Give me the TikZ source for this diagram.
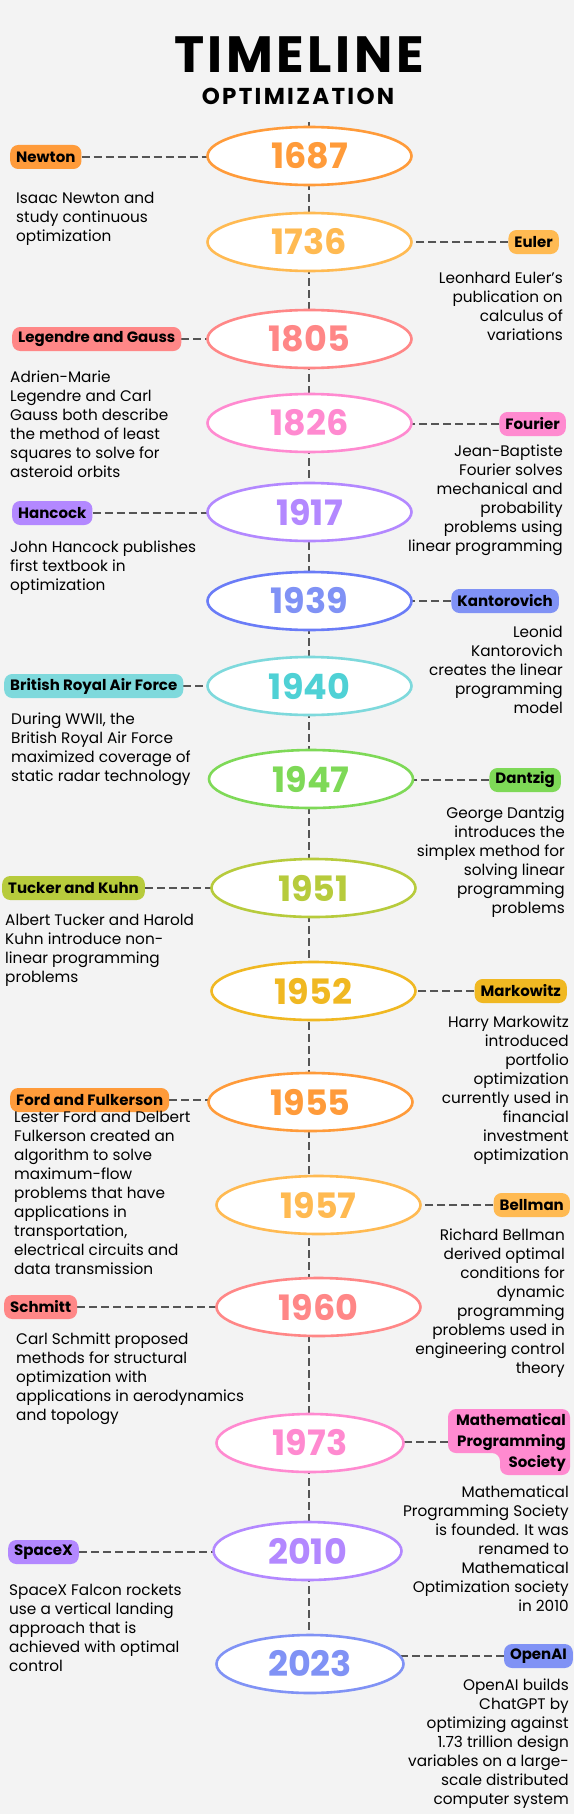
\documentclass[tikz,border=0pt]{standalone}
\usepackage{fontspec}
\setmainfont{Poppins}
\usetikzlibrary{shapes.geometric,positioning,backgrounds}
\definecolor{bgcol}{HTML}{F3F3F3}
\definecolor{linecol}{HTML}{555555}
\definecolor{corange}{HTML}{FF9B3A}
\definecolor{clight}{HTML}{FFBA52}
\definecolor{csalmon}{HTML}{FF8787}
\definecolor{cpink}{HTML}{FF8AD0}
\definecolor{clav}{HTML}{B388FF}
\definecolor{cblue}{HTML}{6A7CF7}
\definecolor{cperi}{HTML}{8092F5}
\definecolor{ccyan}{HTML}{7ED9DC}
\definecolor{cteal}{HTML}{4FD1D5}
\definecolor{cgreen}{HTML}{7ED957}
\definecolor{colive}{HTML}{B7CB3C}
\definecolor{cgold}{HTML}{F0B822}

\begin{document}
\begin{tikzpicture}[x=1pt,y=-1pt,
  yr/.style={ellipse,draw=#1,text=#1,fill=white,line width=2.6pt,minimum width=204pt,
    minimum height=58pt,inner sep=0pt,font=\bfseries\fontsize{35}{35}\selectfont},
  tag/.style={fill=#1,rounded corners=8pt,minimum height=24pt,inner xsep=6pt,inner ysep=2pt,
    text=black,font=\bfseries\fontsize{15}{17}\selectfont},
  dl/.style={anchor=north west,align=left,inner sep=0pt,font=\fontsize{15.3}{19}\selectfont},
  dr/.style={anchor=north east,align=right,inner sep=0pt,font=\fontsize{15.3}{19}\selectfont},
  link/.style={draw=linecol,line width=1.6pt,dash pattern=on 8pt off 4pt}
]
\useasboundingbox (0,0) rectangle (574,1814);

\node[font=\bfseries\fontsize{51}{51}\selectfont\addfontfeatures{LetterSpace=7}] (title) at (299,55) {TIMELINE};
\node[font=\bfseries\fontsize{23}{23}\selectfont\addfontfeatures{LetterSpace=10}] (subtitle) at (298,96) {OPTIMIZATION};

\node[yr=corange] (y1687) at (309.5,156) {1687};
\node[yr=clight]  (y1736) at (309.5,242) {1736};
\node[yr=csalmon] (y1805) at (309.5,339) {1805};
\node[yr=cpink]   (y1826) at (309.5,423) {1826};
\node[yr=clav]    (y1917) at (309.5,512) {1917};
\node[yr=cblue,text=cperi] (y1939) at (309.5,601) {1939};
\node[yr=ccyan,text=cteal] (y1940) at (309.5,686) {1940};
\node[yr=cgreen]  (y1947) at (311,779) {1947};
\node[yr=colive]  (y1951) at (313.5,888) {1951};
\node[yr=cgold]   (y1952) at (313.5,991) {1952};
\node[yr=corange] (y1955) at (310.5,1102) {1955};
\node[yr=clight]  (y1957) at (318.5,1205) {1957};
\node[yr=csalmon] (y1960) at (318.5,1307) {1960};
\node[yr=cpink,minimum width=187pt] (y1973) at (310,1443) {1973};
\node[yr=clav,minimum width=188pt]  (y2010) at (307.5,1551) {2010};
\node[yr=cperi,minimum width=187pt] (y2023) at (310,1664) {2023};

\node[tag=corange,anchor=west] (newton) at (10,157) {Newton};
\node[tag=clight,anchor=east] (euler) at (559,242) {Euler};
\node[tag=csalmon,anchor=west] (legendre) at (12,339) {Legendre and Gauss};
\node[tag=cpink,anchor=east] (fourier) at (566,424) {Fourier};
\node[tag=clav,anchor=west] (hancock) at (12,513) {Hancock};
\node[tag=cperi,anchor=east] (kanto) at (559,601) {Kantorovich};
\node[tag=ccyan,anchor=west] (raf) at (4,686) {British Royal Air Force};
\node[tag=cgreen,anchor=east] (dantzig) at (561,780) {Dantzig};
\node[tag=colive,anchor=west] (tucker) at (2,888) {Tucker and Kuhn};
\node[tag=cgold,anchor=east] (markowitz) at (567,991) {Markowitz};
\node[tag=corange,anchor=west] (ford) at (10,1100) {Ford and Fulkerson};
\node[tag=clight,anchor=east] (bellman) at (570,1205) {Bellman};
\node[tag=csalmon,anchor=west] (schmitt) at (4,1307) {Schmitt};
\node[align=right,anchor=east,inner sep=0pt,font=\bfseries\fontsize{15}{21}\selectfont]
  (mps) at (566,1442) {Mathematical\\Programming\\Society};
\coordinate (mpsw) at (448,1442);
\node[tag=clav,anchor=west] (spacex) at (8,1552) {SpaceX};
\node[tag=cperi,anchor=east] (openai) at (573,1656) {OpenAI};

\node[dl] (dnewton) at (16,192) {Isaac Newton and\\study continuous\\optimization};
\node[dr] (deuler) at (563,272) {Leonhard Euler's\\publication on\\calculus of\\variations};
\node[dl] (dlegendre) at (10,371) {Adrien-Marie\\Legendre and Carl\\Gauss both describe\\the method of least\\squares to solve for\\asteroid orbits};
\node[dr] (dfourier) at (563,445) {Jean-Baptiste\\Fourier solves\\mechanical and\\probability\\problems using\\linear programming};
\node[dl] (dhancock) at (10,541) {John Hancock publishes\\first textbook in\\optimization};
\node[dr] (dkanto) at (563,626) {Leonid\\Kantorovich\\creates the linear\\programming\\model};
\node[dl] (draf) at (11,713) {During WWII, the\\British Royal Air Force\\maximized coverage of\\static radar technology};
\node[dr] (ddantzig) at (565,807) {George Dantzig\\introduces the\\simplex method for\\solving linear\\programming\\problems};
\node[dl] (dtucker) at (5,914) {Albert Tucker and Harold\\Kuhn introduce non-\\linear programming\\problems};
\node[dr] (dmarkowitz) at (569,1016) {Harry Markowitz\\introduced\\portfolio\\optimization\\currently used in\\financial\\investment\\optimization};
\node[dl] (dford) at (14,1111) {Lester Ford and Delbert\\Fulkerson created an\\algorithm to solve\\maximum-flow\\problems that have\\applications in\\transportation,\\electrical circuits and\\data transmission};
\node[dr] (dbellman) at (565,1229) {Richard Bellman\\derived optimal\\conditions for\\dynamic\\programming\\problems used in\\engineering control\\theory};
\node[dl] (dschmitt) at (16,1333) {Carl Schmitt proposed\\methods for structural\\optimization with\\applications in aerodynamics\\and topology};
\node[dr] (dmps) at (569,1486) {Mathematical\\Programming Society\\is founded. It was\\renamed to\\Mathematical\\Optimization society\\in 2010};
\node[dl] (dspacex) at (9,1584) {SpaceX Falcon rockets\\use a vertical landing\\approach that is\\achieved with optimal\\control};
\node[dr] (dopenai) at (569,1679) {OpenAI builds\\ChatGPT by\\optimizing against\\1.73 trillion design\\variables on a large-\\scale distributed\\computer system};

\begin{scope}[on background layer]
\fill[bgcol] (0,0) rectangle (574,1814);
\fill[cpink,rounded corners=8pt] (448,1409) -- (570,1409) -- (570,1475) -- (500,1475)
  -- (500,1453) -- (448,1453) -- cycle;
\coordinate (top) at (309,122);
\draw[link] (top) -- (top |- y2023);
\draw[link] (newton.east) -- (newton.east -| y1687);
\draw[link] (euler.west) -- (euler.west -| y1736);
\draw[link] (legendre.east) -- (legendre.east -| y1805);
\draw[link] (fourier.west) -- (fourier.west -| y1826);
\draw[link] (hancock.east) -- (hancock.east -| y1917);
\draw[link] (kanto.west) -- (kanto.west -| y1939);
\draw[link] (raf.east) -- (raf.east -| y1940);
\draw[link] (dantzig.west) -- (dantzig.west -| y1947);
\draw[link] (tucker.east) -- (tucker.east -| y1951);
\draw[link] (markowitz.west) -- (markowitz.west -| y1952);
\draw[link] (ford.east) -- (ford.east -| y1955);
\draw[link] (bellman.west) -- (bellman.west -| y1957);
\draw[link] (schmitt.east) -- (schmitt.east -| y1960);
\draw[link] (mpsw) -- (mpsw -| y1973);
\draw[link] (spacex.east) -- (spacex.east -| y2010);
\draw[link] (openai.west) -- (openai.west -| y2023);
\end{scope}
\end{tikzpicture}
\end{document}
